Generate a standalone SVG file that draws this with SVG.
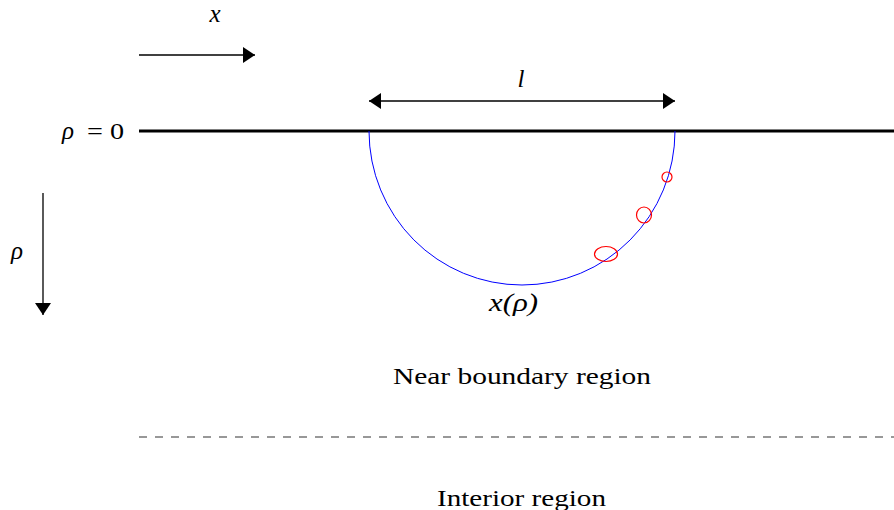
<svg xmlns="http://www.w3.org/2000/svg" width="894" height="510" viewBox="0 0 894 510">
<style>
.t{font-family:"Liberation Serif","Times New Roman",serif;font-size:24px;fill:#000}
.m{font-family:"Liberation Serif","Times New Roman",serif;font-size:25px;font-style:italic;fill:#000}
.ln{stroke:#000;stroke-width:1.3;fill:none}
.red{stroke:#f00;stroke-width:1.2;fill:none}
</style>
<defs>
<marker id="ah" viewBox="0 0 12 16" refX="12" refY="8" markerWidth="12" markerHeight="16" markerUnits="userSpaceOnUse" orient="auto-start-reverse">
<path d="M0,0 L12,8 L0,16 Z" fill="#000"/>
</marker>
</defs>
<g id="connectors">
<line class="ln" x1="139" y1="55" x2="255" y2="55" marker-end="url(#ah)"/>
<line class="ln" x1="43" y1="193" x2="43" y2="315" marker-end="url(#ah)"/>
<line class="ln" x1="369" y1="101" x2="675" y2="101" marker-start="url(#ah)" marker-end="url(#ah)"/>
</g>
<g id="boundary">
<line x1="139" y1="131" x2="894" y2="131" stroke="#000" stroke-width="3"/>
<text class="m" x="62" y="139">ρ</text>
<text class="t" x="87" y="139" textLength="37" lengthAdjust="spacingAndGlyphs">= 0</text>
</g>
<g id="curve">
<path d="M369,131 A153,154 0 0 0 675,131" stroke="#00f" stroke-width="1" fill="none"/>
<ellipse class="red" cx="667" cy="177" rx="5" ry="5"/>
<ellipse class="red" cx="644" cy="215" rx="7.5" ry="8"/>
<ellipse class="red" cx="606" cy="254" rx="11.5" ry="7.5"/>
</g>
<g id="labels">
<text class="m" x="215" y="22" text-anchor="middle">x</text>
<text class="m" x="521" y="87" text-anchor="middle">l</text>
<text class="m" x="17" y="259" text-anchor="middle">ρ</text>
<text class="m" x="489" y="311" textLength="49" lengthAdjust="spacingAndGlyphs">x(ρ)</text>
<text class="t" x="393" y="384" textLength="258" lengthAdjust="spacingAndGlyphs">Near boundary region</text>
<text class="t" x="437" y="506" textLength="169" lengthAdjust="spacingAndGlyphs">Interior region</text>
</g>
<g id="divider">
<line x1="139" y1="437" x2="894" y2="437" stroke="#333" stroke-width="1.2" stroke-dasharray="8,8"/>
</g>
</svg>
